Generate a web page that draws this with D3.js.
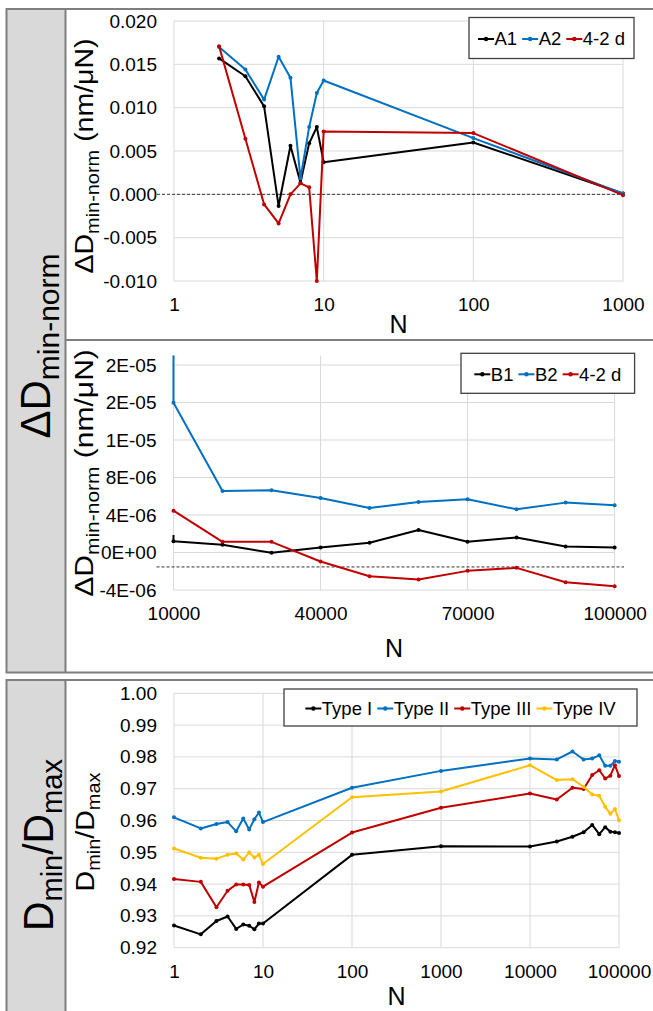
<!DOCTYPE html>
<html>
<head>
<meta charset="utf-8">
<script src="https://cdn.jsdelivr.net/npm/d3@7"></script>
<style>
    body { margin: 0; background: #fff; }
    svg { display: block; }
</style>
</head>
<body>
<svg id="fig" width="653" height="1011"></svg>
<script>
// ---- data: top panel (A1 / A2 / 4-2 d), N from 2 to 1000
const topN = [2, 3, 4, 5, 6, 7, 8, 9, 10, 100, 1000];
const a1 = [0.01568, 0.01363, 0.01015, -0.00135, 0.0056, 0.00135, 0.0059, 0.00776, 0.0037, 0.00598, 0.0001];
const a2 = [0.01699, 0.0144, 0.01093, 0.01587, 0.01344, 0.00185, 0.00776, 0.0117, 0.01313, 0.00649, 0.0001];
const topRed = [0.0171, 0.00641, -0.00116, -0.00336, 0.0, 0.00127, 0.00081, -0.0100, 0.00726, 0.00707, -0.0001];
const topYTicks = [-0.010, -0.005, 0.000, 0.005, 0.010, 0.015, 0.020];
const topXTicks = [1, 10, 100, 1000];

// ---- data: middle panel (B1 / B2 / 4-2 d), N from 10000 to 100000
const midN = [10000, 20000, 30000, 40000, 50000, 60000, 70000, 80000, 90000, 100000];
const b1 = [1.21e-6, 8.2e-7, -3.6e-8, 5.4e-7, 1.04e-6, 2.39e-6, 1.14e-6, 1.61e-6, 6.4e-7, 5.4e-7];
const b2 = [1.596e-5, 6.57e-6, 6.64e-6, 5.82e-6, 4.75e-6, 5.39e-6, 5.68e-6, 4.61e-6, 5.32e-6, 5.04e-6];
const midRed = [4.46e-6, 1.14e-6, 1.14e-6, -9.6e-7, -2.54e-6, -2.89e-6, -1.96e-6, -1.64e-6, -3.18e-6, -3.61e-6];
// lines entering from the left edge at N = 10000
const b1Lead = 1.86e-6;
const b2Lead = 2.1e-5;
const midDash = -1.54e-6;
const midYTicks = [-4e-6, 0, 4e-6, 8e-6, 1.2e-5, 1.6e-5, 2e-5];
const midXTicks = [10000, 40000, 70000, 100000];

// ---- data: bottom panel (Dmin/Dmax, Type I-IV)
const botN = [1, 2, 3, 4, 5, 6, 7, 8, 9, 10, 100, 1000, 10000, 20000, 30000, 40000, 50000, 60000, 70000, 80000, 90000, 100000];
const type1 = [0.9270, 0.9242, 0.9284, 0.9298, 0.9259, 0.9273, 0.9269, 0.9258, 0.9276, 0.9276, 0.9492, 0.9519, 0.9518, 0.9534, 0.9549, 0.9563, 0.9586, 0.9557, 0.9579, 0.9565, 0.9563, 0.9561];
const type2 = [0.9610, 0.9575, 0.9589, 0.9595, 0.9566, 0.9606, 0.9572, 0.9604, 0.9625, 0.9595, 0.9703, 0.9756, 0.9795, 0.9792, 0.9817, 0.9792, 0.9795, 0.9805, 0.9772, 0.9772, 0.9787, 0.9785];
const type3 = [0.9416, 0.9407, 0.9327, 0.9379, 0.9399, 0.9399, 0.9397, 0.9344, 0.9405, 0.9392, 0.9562, 0.9640, 0.9685, 0.9666, 0.9703, 0.9699, 0.9743, 0.9758, 0.9732, 0.9741, 0.9774, 0.9740];
const type4 = [0.9512, 0.9483, 0.9480, 0.9492, 0.9496, 0.9477, 0.9499, 0.9484, 0.9492, 0.9463, 0.9673, 0.9691, 0.9774, 0.9727, 0.9730, 0.9706, 0.9682, 0.9678, 0.9643, 0.9621, 0.9636, 0.9601];
const botYTicks = [0.92, 0.93, 0.94, 0.95, 0.96, 0.97, 0.98, 0.99, 1.00];
const botXTicks = [1, 10, 100, 1000, 10000, 100000];

const BLACK = "#000000", BLUE = "#0070C0", RED = "#C00000", YELLOW = "#FFC000";
const FONT = "'Liberation Sans', Arial, sans-serif";

const svg = d3.select("#fig");

// Excel-style scientific labels (2E-05, 0E+00)
function sciFormat(v) {
    const [m, e] = v.toExponential(0).split("e");
    const ex = +e;
    return m + "E" + (ex < 0 ? "-" : "+") + String(Math.abs(ex)).padStart(2, "0");
}
const fixed = digits => v => d3.format(`.${digits}f`)(v).replace("\u2212", "-");

// Grey framed sections with a label column on the left
function drawFrame(y0, y1) {
    svg.append("rect")
        .attr("x", 6.5).attr("y", y0)
        .attr("width", 59).attr("height", y1 - y0)
        .attr("fill", "#d9d9d9");
    svg.append("rect")
        .attr("x", 6.5).attr("y", y0)
        .attr("width", 720).attr("height", y1 - y0)
        .attr("fill", "none")
        .attr("stroke", "#7f7f7f")
        .attr("stroke-width", 2);
    svg.append("line")
        .attr("x1", 65.5).attr("x2", 65.5)
        .attr("y1", y0).attr("y2", y1)
        .attr("stroke", "#7f7f7f")
        .attr("stroke-width", 2);
}
drawFrame(9, 672.5);
drawFrame(680, 1060);
svg.append("line")
    .attr("x1", 65.5).attr("x2", 720)
    .attr("y1", 340).attr("y2", 340)
    .attr("stroke", "#7f7f7f")
    .attr("stroke-width", 2);

// Rotated text built from [string, size, baseline shift] parts
function rotText(x, y, parts, k) {
    const t = svg.append("text")
        .attr("transform", `translate(${x},${y}) rotate(-90) scale(${k},1)`)
        .attr("text-anchor", "middle")
        .attr("font-family", FONT)
        .attr("fill", "#000");
    let cur = 0;
    parts.forEach(([str, size, shift]) => {
        t.append("tspan")
            .attr("font-size", size)
            .attr("dy", shift - cur)
            .text(str);
        cur = shift;
    });
}

// Legend row centred in a framed box
function drawLegend(box, items) {
    const g = svg.append("g");
    g.append("rect")
        .attr("x", box[0]).attr("y", box[1])
        .attr("width", box[2] - box[0]).attr("height", box[3] - box[1])
        .attr("fill", "#fff")
        .attr("stroke", "#404040")
        .attr("stroke-width", 1.3);
    const row = g.append("g");
    let cx = 0;
    items.forEach(it => {
        row.append("line")
            .attr("x1", cx).attr("x2", cx + 16)
            .attr("y1", 0).attr("y2", 0)
            .attr("stroke", it.color)
            .attr("stroke-width", 2);
        row.append("circle")
            .attr("cx", cx + 8).attr("cy", 0).attr("r", 2.2)
            .attr("fill", it.color);
        const t = row.append("text")
            .attr("x", cx + 16.5)
            .attr("dy", "0.35em")
            .attr("font-family", FONT)
            .attr("font-size", 18.5)
            .attr("fill", "#000")
            .text(it.name);
        cx += 16.5 + t.node().getComputedTextLength() + 5;
    });
    cx -= 5;
    row.attr("transform", `translate(${(box[0] + box[2]) / 2 - cx / 2},${(box[1] + box[3]) / 2 + 1})`);
}

// One chart panel: grid, axes, reference line, series
function drawPanel(p) {
    const g = svg.append("g");
    const [x0, x1] = p.x.range();
    const [yb, yt] = p.y.range();

    g.append("g")
        .selectAll("line")
        .data(p.yTicks)
        .join("line")
        .attr("x1", x0).attr("x2", x1)
        .attr("y1", d => p.y(d)).attr("y2", d => p.y(d))
        .attr("stroke", "#d9d9d9");

    g.append("g")
        .selectAll("line")
        .data(p.xTicks)
        .join("line")
        .attr("x1", d => p.x(d)).attr("x2", d => p.x(d))
        .attr("y1", yb).attr("y2", yt)
        .attr("stroke", "#d9d9d9");

    const ya = g.append("g")
        .attr("transform", `translate(${x0},0)`)
        .call(d3.axisLeft(p.y).tickValues(p.yTicks).tickFormat(p.yFormat).tickSize(0).tickPadding(17));
    ya.select(".domain").remove();
    ya.attr("font-family", FONT).attr("font-size", 19);
    ya.selectAll("text").attr("fill", "#000");

    const xa = g.append("g")
        .attr("transform", `translate(0,${p.y(p.y.domain()[0])})`)
        .call(d3.axisBottom(p.x).tickValues(p.xTicks).tickFormat(d3.format("d")).tickSize(0).tickPadding(17));
    xa.select(".domain").remove();
    xa.attr("font-family", FONT).attr("font-size", 19);
    xa.selectAll("text").attr("fill", "#000");

    if (p.dash !== undefined) {
        g.append("line")
            .attr("x1", x0 - 17).attr("x2", 624)
            .attr("y1", p.y(p.dash)).attr("y2", p.y(p.dash))
            .attr("stroke", "#333")
            .attr("stroke-width", 1)
            .attr("stroke-dasharray", "3,2");
    }

    const line = d3.line().x(d => p.x(d[0])).y(d => p.y(d[1]));
    p.series.forEach(s => {
        const pts = s.values.map((v, i) => [p.n[i], v]);
        const path = s.lead !== undefined ? [[p.n[0], s.lead], ...pts] : pts;
        g.append("path")
            .datum(path)
            .attr("d", line)
            .attr("fill", "none")
            .attr("stroke", s.color)
            .attr("stroke-width", 2)
            .attr("stroke-linejoin", "round");
        g.append("g")
            .selectAll("circle")
            .data(pts)
            .join("circle")
            .attr("cx", d => p.x(d[0]))
            .attr("cy", d => p.y(d[1]))
            .attr("r", 2)
            .attr("fill", s.color);
    });

    // "N" title
    svg.append("text")
        .attr("x", (x0 + x1) / 2)
        .attr("y", p.nY)
        .attr("text-anchor", "middle")
        .attr("font-family", FONT)
        .attr("font-size", 25)
        .attr("fill", "#000")
        .text("N");
}

// Top panel
drawPanel({
    x: d3.scaleLog().domain([1, 1000]).range([174, 623]),
    y: d3.scaleLinear().domain([-0.010, 0.020]).range([281, 21]),
    n: topN,
    xTicks: topXTicks,
    yTicks: topYTicks,
    yFormat: fixed(3),
    dash: 0,
    nY: 333,
    series: [
        { values: a1, color: BLACK },
        { values: a2, color: BLUE },
        { values: topRed, color: RED }
    ]
});
drawLegend([469, 17.5, 634, 58.5], [
    { name: "A1", color: BLACK },
    { name: "A2", color: BLUE },
    { name: "4-2 d", color: RED }
]);
rotText(93, 156, [["\u0394D", 25, 0], ["min-norm", 17.5, 6], [" (nm/\u03bcN)", 25, 0]], 1.14);

// Middle panel
drawPanel({
    x: d3.scaleLinear().domain([10000, 100000]).range([173.5, 614.6]),
    y: d3.scaleLinear().domain([-4e-6, 2.1e-5]).range([590, 355.6]),
    n: midN,
    xTicks: midXTicks,
    yTicks: midYTicks,
    yFormat: sciFormat,
    dash: midDash,
    nY: 657,
    series: [
        { values: b1, color: BLACK, lead: b1Lead },
        { values: b2, color: BLUE, lead: b2Lead },
        { values: midRed, color: RED }
    ]
});
drawLegend([461, 353.3, 634.6, 393.3], [
    { name: "B1", color: BLACK },
    { name: "B2", color: BLUE },
    { name: "4-2 d", color: RED }
]);
rotText(92.5, 473, [["\u0394D", 25, 0], ["min-norm", 17.5, 6], [" (nm/\u03bcN)", 25, 0]], 1.2);

// Bottom panel
drawPanel({
    x: d3.scaleLog().domain([1, 100000]).range([174, 619]),
    y: d3.scaleLinear().domain([0.92, 1.00]).range([947.7, 693.3]),
    n: botN,
    xTicks: botXTicks,
    yTicks: botYTicks,
    yFormat: fixed(2),
    nY: 1005,
    series: [
        { values: type1, color: BLACK },
        { values: type2, color: BLUE },
        { values: type3, color: RED },
        { values: type4, color: YELLOW }
    ]
});
drawLegend([284, 689, 637, 726], [
    { name: "Type I", color: BLACK },
    { name: "Type II", color: BLUE },
    { name: "Type III", color: RED },
    { name: "Type IV", color: YELLOW }
]);
rotText(94, 832, [["D", 25, 0], ["min", 17.5, 6], ["/D", 25, 0], ["max", 17.5, 6]], 1.14);

// Section labels in the grey column
rotText(50, 346, [["\u0394D", 42, 0], ["min-norm", 30, 9]], 1.0);
rotText(53, 845, [["D", 42, 0], ["min", 30, 9], ["/D", 42, 0], ["max", 30, 9]], 0.97);
</script>
</body>
</html>
